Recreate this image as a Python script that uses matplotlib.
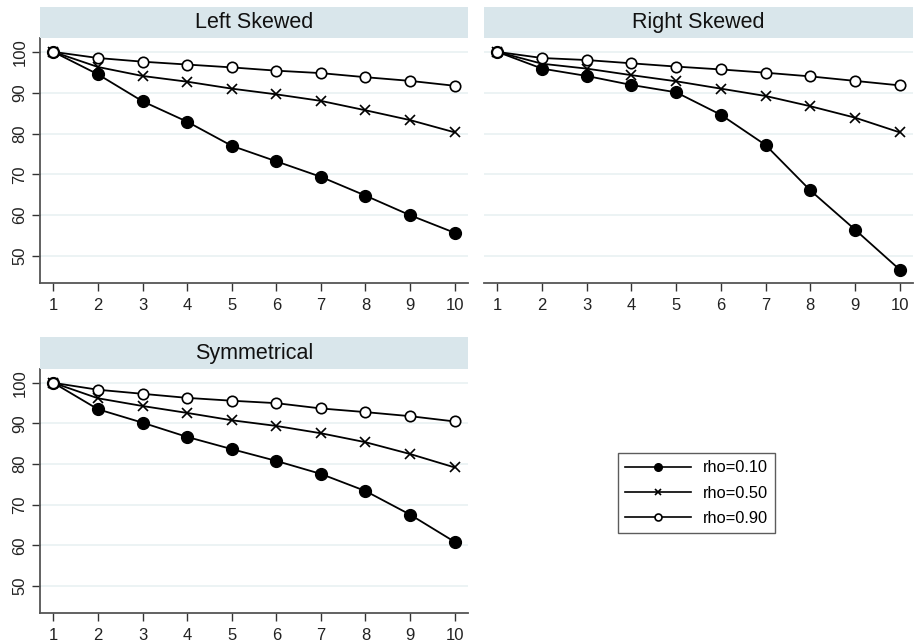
import matplotlib
matplotlib.use("Agg")
import matplotlib.pyplot as plt
from matplotlib.lines import Line2D
from matplotlib.patches import Rectangle

plt.rcParams['font.family'] = ['Liberation Sans', 'DejaVu Sans']

x = [1, 2, 3, 4, 5, 6, 7, 8, 9, 10]
series_labels = ["rho=0.10", "rho=0.50", "rho=0.90"]
panel_titles = ["Left Skewed", "Right Skewed", "Symmetrical"]

left_rho10 = [100, 94.5, 87.9, 82.9, 77.0, 73.2, 69.4, 64.8, 60.0, 55.7]
left_rho50 = [100, 96.3, 94.1, 92.7, 91.0, 89.6, 88.0, 85.7, 83.3, 80.3]
left_rho90 = [100, 98.5, 97.6, 96.9, 96.2, 95.4, 94.8, 93.8, 92.9, 91.7]

right_rho10 = [100, 95.9, 94.1, 91.9, 90.1, 84.6, 77.2, 66.1, 56.5, 46.7]
right_rho50 = [100, 97.1, 95.9, 94.3, 92.8, 91.0, 89.2, 86.7, 83.9, 80.3]
right_rho90 = [100, 98.5, 98.0, 97.2, 96.4, 95.7, 94.9, 94.0, 92.9, 91.8]

sym_rho10 = [100, 93.5, 90.2, 86.7, 83.7, 80.8, 77.6, 73.4, 67.6, 60.9]
sym_rho50 = [100, 96.2, 94.3, 92.6, 90.8, 89.4, 87.6, 85.4, 82.5, 79.2]
sym_rho90 = [100, 98.3, 97.3, 96.3, 95.6, 95.0, 93.7, 92.8, 91.8, 90.5]

yticks = [50, 60, 70, 80, 90, 100]

W, H = 916, 644
fig = plt.figure(figsize=(W / 100, H / 100), dpi=100)
fig.patch.set_facecolor('white')

STRIP = '#d9e6eb'
GRID = '#eaf2f3'
SPINE = '#555555'

def px_rect(x0, y0, x1, y1):
    return [x0 / W, 1 - y1 / H, (x1 - x0) / W, (y1 - y0) / H]

panels = [
    (panel_titles[0], [left_rho10, left_rho50, left_rho90], (40, 38, 468, 283), (7, 38)),
    (panel_titles[1], [right_rho10, right_rho50, right_rho90], (484, 38, 913, 283), (7, 38)),
    (panel_titles[2], [sym_rho10, sym_rho50, sym_rho90], (40, 369, 468, 613), (337, 369)),
]

styles = [
    dict(marker='o', markersize=8.5, markerfacecolor='black', markeredgecolor='black'),
    dict(marker='x', markersize=6.5, markeredgewidth=1.2, markeredgecolor='black'),
    dict(marker='o', markersize=7.5, markerfacecolor='white', markeredgecolor='black', markeredgewidth=1.2),
]
legend_ms = [5.5, 4.5, 5.0]

for title, data, (x0, y0, x1, y1), (sy0, sy1) in panels:
    ax = fig.add_axes(px_rect(x0, y0, x1, y1))
    for vals, st in zip(data, styles):
        ax.plot(x, vals, color='black', linewidth=1.3, zorder=3, clip_on=False, **st)
    ax.set_xlim(0.7, 10.3)
    ax.set_ylim(43.4, 103.4)
    ax.set_yticks(yticks)
    ax.set_xticks(x)
    ax.grid(axis='y', color=GRID, linewidth=1.3)
    ax.set_axisbelow(True)
    for s in ['top', 'right']:
        ax.spines[s].set_visible(False)
    for s in ['left', 'bottom']:
        ax.spines[s].set_color(SPINE)
        ax.spines[s].set_linewidth(1.3)
    ax.tick_params(axis='both', direction='out', length=6, width=1.0, color='#333333',
                   labelsize=12, labelcolor='#222222')
    ax.tick_params(axis='x', pad=5)
    ax.tick_params(axis='y', pad=3)
    for lab in ax.get_yticklabels():
        lab.set_rotation(90)
        lab.set_va('center')
    if title == panel_titles[1]:
        ax.set_yticklabels([])
        ax.tick_params(axis='y', length=0)
        ax.spines['left'].set_visible(False)
    fig.patches.append(Rectangle((x0 / W, 1 - sy1 / H), (x1 - x0) / W, (sy1 - sy0) / H,
                                 transform=fig.transFigure, facecolor=STRIP, edgecolor='none'))
    fig.text((x0 + x1) / 2 / W, 1 - (sy0 + sy1) / 2 / H, title, ha='center', va='center',
             fontsize=15.5, color='#111111')

handles = []
for st, ms in zip(styles, legend_ms):
    kw = dict(st)
    kw['markersize'] = ms
    handles.append(Line2D([0], [0], color='black', linewidth=1.2, **kw))
leg = fig.legend(handles, series_labels, loc='upper left',
                 bbox_to_anchor=(618 / W, 1 - 453 / H), fontsize=11.8,
                 frameon=True, fancybox=False, handlelength=4.0, handletextpad=0.7,
                 borderpad=0.45, labelspacing=0.62, borderaxespad=0)
leg.get_frame().set_edgecolor('#333333')
leg.get_frame().set_linewidth(1.0)

fig.savefig('out.png', dpi=100)
